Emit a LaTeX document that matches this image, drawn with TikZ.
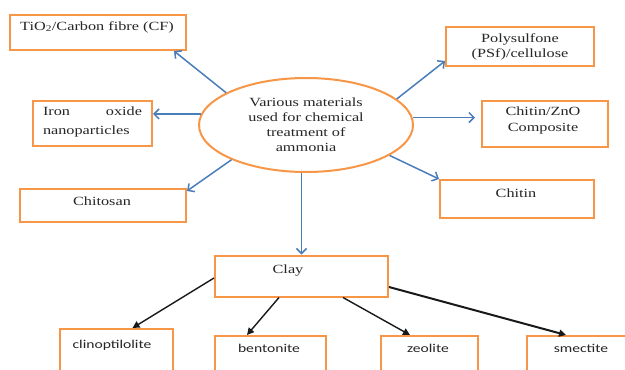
\documentclass[tikz,border=0pt]{standalone}
\usepackage{fontspec}
\setmainfont[FakeStretch=1.3]{Liberation Serif}
\newfontfamily\carl[FakeStretch=1.3]{Carlito}
\usetikzlibrary{arrows.meta,shapes.geometric,calc}
\definecolor{boxorange}{HTML}{F79646}
\definecolor{arrowblue}{HTML}{4A7EBB}
\definecolor{inktext}{HTML}{262626}
\begin{document}
\begin{tikzpicture}[x=1pt,y=-1pt,
  box/.style={draw=boxorange, line width=2pt, rectangle, inner sep=0pt},
  txt/.style={font=\fontsize{12.5}{15}\selectfont, text=inktext, inner sep=0pt, align=center},
  stxt/.style={font=\carl\fontsize{12}{14}\selectfont, text=inktext, inner sep=0pt, align=center},
  barrow/.style={draw=arrowblue, line width=1.5pt, -{Straight Barb[length=5pt,width=10pt]}},
  karrow/.style={draw=black!90, line width=1.4pt, -{Triangle[length=7pt,width=7pt]}}]
\useasboundingbox (0,0) rectangle (625,370);
\fill[white] (0,0) rectangle (625,370);
\clip (0,0) rectangle (625,370);

% centre ellipse
\node[draw=boxorange, line width=2pt, ellipse, minimum width=214pt, minimum height=94pt, txt] (ell) at (306,125)
  {Various materials\\used for chemical\\treatment of\\ammonia};

% left boxes
\node[box, minimum width=176pt, minimum height=35pt] (tio) at (98,32.5) {};
\node[txt] (ttio) at (97,27) {TiO\textsubscript{2}/Carbon fibre (CF)};
\node[box, minimum width=119pt, minimum height=45pt] (iron) at (92.5,123.5) {};
\node[txt, font=\fontsize{12.5}{19}\selectfont, align=left] (tiron) at (92.5,122) {\makebox[99pt]{Iron\hfill oxide}\\nanoparticles};
\node[box, minimum width=166pt, minimum height=33pt] (chitosan) at (103,205.5) {};
\node[txt] (tchitosan) at (102,201) {Chitosan};

% right boxes
\node[box, minimum width=148pt, minimum height=39pt] (poly) at (520,46.5) {};
\node[txt] (tpoly) at (520,46.5) {Polysulfone\\(PSf)/cellulose};
\node[box, minimum width=126pt, minimum height=46pt] (zno) at (545,124) {};
\node[txt, font=\fontsize{12.5}{16}\selectfont] (tzno) at (543,120) {Chitin/ZnO\\Composite};
\node[box, minimum width=154pt, minimum height=38pt] (chitin) at (517,199) {};
\node[txt] (tchitin) at (516,193) {Chitin};

% clay
\node[box, minimum width=173pt, minimum height=41pt] (clay) at (301.5,276) {};
\node[txt] (tclay) at (288,271) {Clay};

% bottom boxes (cut by the page edge)
\node[box, minimum width=113pt, minimum height=71pt] (clino) at (116.5,364.5) {};
\node[stxt] (tclino) at (112,345) {clinoptilolite};
\node[box, minimum width=111pt, minimum height=64pt] (bent) at (270.5,368) {};
\node[stxt] (tbent) at (269,348) {bentonite};
\node[box, minimum width=97pt, minimum height=64pt] (zeo) at (429.5,368) {};
\node[stxt] (tzeo) at (428,348) {zeolite};
\node[box, minimum width=108pt, minimum height=64pt] (smec) at (581,368) {};
\node[stxt] (tsmec) at (581,348) {smectite};

% blue arrows
\draw[barrow] (ell.158) -- ([xshift=-13pt]tio.south east);
\draw[barrow] (ell.174) -- (ell.174 -| iron.east);
\draw[barrow] (ell.205) -- ([yshift=-3pt]chitosan.north east);
\draw[barrow] (ell.16) -- ([yshift=6pt]poly.south west);
\draw[barrow] (ell.4) -- ($(ell.4 -| zno.west)+(-6,0)$);
\draw[barrow] (ell.340) -- (chitin.north west);
\draw[barrow] (ell.south -| clay.north) -- (clay.north);

% black arrows
\draw[karrow] ([yshift=-2pt]clay.west) -- ([xshift=16pt]clino.north);
\draw[karrow] ([xshift=-22.5pt]clay.south) -- ([xshift=-23.5pt]bent.north);
\draw[karrow] ([xshift=41.5pt]clay.south) -- ([xshift=-19.5pt]zeo.north);
\draw[karrow, line width=2pt] ([yshift=-11pt]clay.east) -- ([xshift=-15pt]smec.north);
\end{tikzpicture}
\end{document}
